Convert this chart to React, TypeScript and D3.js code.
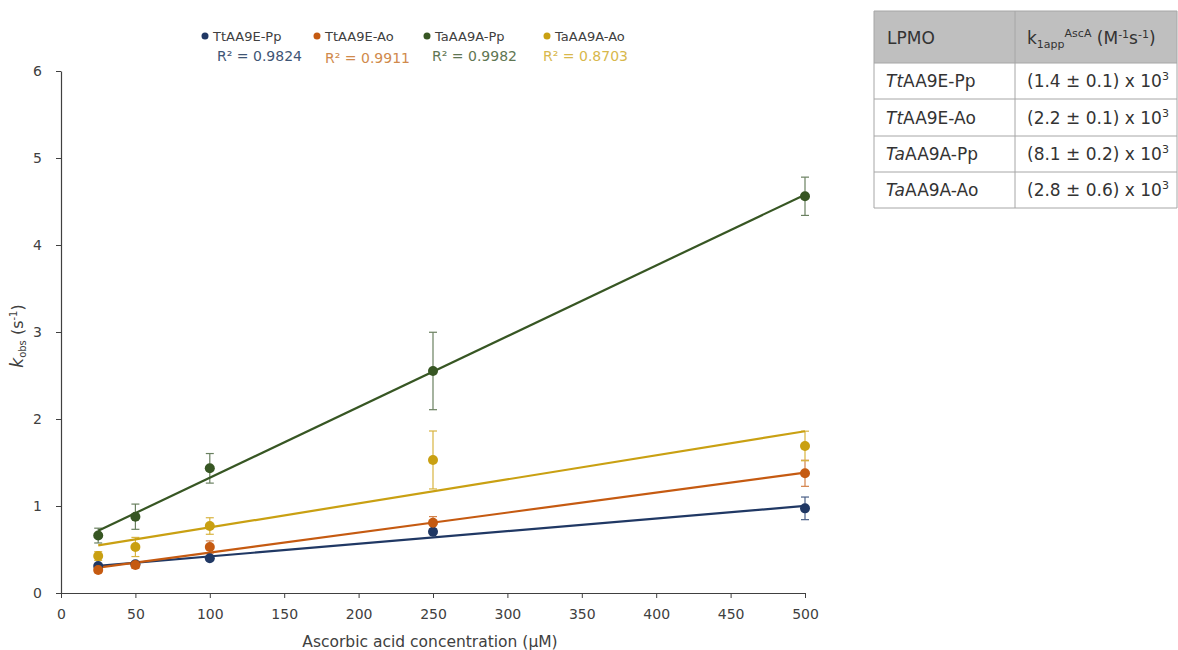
import React, { useEffect, useRef } from 'react';
import * as d3 from 'd3';

// ascorbic acid concentration (uM)
const concentrations = [25, 50, 100, 250, 500];

const seriesNames = ['TtAA9E-Pp', 'TtAA9E-Ao', 'TaAA9A-Pp', 'TaAA9A-Ao'];
const seriesColors = ['#203864', '#c55a11', '#375623', '#c9a012'];
const errorColors = ['#4a5f86', '#d4824a', '#6a8060', '#d8b440'];
const r2Colors = ['#3f5575', '#d08a4c', '#5f7653', '#d8b84c'];
const r2Labels = ['R² = 0.9824', 'R² = 0.9911', 'R² = 0.9982', 'R² = 0.8703'];

// k_obs (s-1)
const ttPpValues = [0.31, 0.33, 0.4, 0.705, 0.973];
const ttPpErrors = [0.02, 0.02, 0.02, 0.02, 0.13];
const ttAoValues = [0.264, 0.322, 0.529, 0.808, 1.376];
const ttAoErrors = [0.03, 0.04, 0.07, 0.07, 0.15];
const taPpValues = [0.66, 0.877, 1.433, 2.552, 4.56];
const taPpErrors = [0.085, 0.145, 0.17, 0.445, 0.22];
const taAoValues = [0.425, 0.529, 0.77, 1.529, 1.69];
const taAoErrors = [0.05, 0.11, 0.095, 0.333, 0.17];

const xTicks = [0, 50, 100, 150, 200, 250, 300, 350, 400, 450, 500];
const yTicks = [0, 1, 2, 3, 4, 5, 6];

// table
const tablePrefix = ['Tt', 'Tt', 'Ta', 'Ta'];
const tableSuffix = ['AA9E-Pp', 'AA9E-Ao', 'AA9A-Pp', 'AA9A-Ao'];
const tableRates = ['(1.4 ± 0.1) x 10', '(2.2 ± 0.1) x 10', '(8.1 ± 0.2) x 10', '(2.8 ± 0.6) x 10'];

const FONT = 'Tahoma, "DejaVu Sans", Verdana, sans-serif';

function linearFit(xs: number[], ys: number[]) {
  const mx = d3.mean(xs) as number;
  const my = d3.mean(ys) as number;
  let sxy = 0;
  let sxx = 0;
  xs.forEach((x, i) => {
    sxy += (x - mx) * (ys[i] - my);
    sxx += (x - mx) * (x - mx);
  });
  const slope = sxy / sxx;
  return { slope, intercept: my - slope * mx };
}

function drawChart(node: SVGSVGElement) {
  const svg = d3.select(node);
  svg.selectAll('*').remove();

  const x = d3.scaleLinear().domain([0, 500]).range([61, 805]);
  const y = d3.scaleLinear().domain([0, 6]).range([593, 71]);

  const series = [
    { values: ttPpValues, errors: ttPpErrors },
    { values: ttAoValues, errors: ttAoErrors },
    { values: taPpValues, errors: taPpErrors },
    { values: taAoValues, errors: taAoErrors },
  ];

  // axes
  const yAxis = svg
    .append('g')
    .attr('transform', `translate(${x(0)},0)`)
    .call(
      d3.axisLeft(y).tickValues(yTicks).tickFormat(d3.format('d')).tickSize(5).tickSizeOuter(0).tickPadding(14),
    );
  const xAxis = svg
    .append('g')
    .attr('transform', `translate(0,${y(0)})`)
    .call(
      d3.axisBottom(x).tickValues(xTicks).tickSize(5).tickSizeOuter(0).tickPadding(11),
    );
  [xAxis, yAxis].forEach((a) => {
    a.select('.domain').attr('stroke', '#404040').attr('stroke-width', 1.2);
    a.selectAll('.tick line').attr('stroke', '#404040');
    a.selectAll('.tick text')
      .attr('fill', '#404040')
      .style('font-family', FONT)
      .style('font-size', '14px');
  });

  // error bars
  series.forEach((s, si) => {
    const g = svg.append('g');
    s.values.forEach((v, i) => {
      const cx = x(concentrations[i]);
      const top = y(v + s.errors[i]);
      const bot = y(v - s.errors[i]);
      g.append('line')
        .attr('x1', cx).attr('x2', cx).attr('y1', top).attr('y2', bot)
        .attr('stroke', errorColors[si]).attr('stroke-width', 1.2);
      [top, bot].forEach((yy) => {
        g.append('line')
          .attr('x1', cx - 4).attr('x2', cx + 4).attr('y1', yy).attr('y2', yy)
          .attr('stroke', errorColors[si]).attr('stroke-width', 1.2);
      });
    });
  });

  // trendlines
  series.forEach((s, si) => {
    const fit = linearFit(concentrations, s.values);
    const ends = [concentrations[0], concentrations[concentrations.length - 1]];
    svg
      .append('path')
      .datum(ends)
      .attr('fill', 'none')
      .attr('stroke', seriesColors[si])
      .attr('stroke-width', 2.2)
      .attr(
        'd',
        d3
          .line<number>()
          .x((d) => x(d))
          .y((d) => y(fit.intercept + fit.slope * d)),
      );
  });

  // points
  series.forEach((s, si) => {
    svg
      .append('g')
      .selectAll('circle')
      .data(s.values)
      .join('circle')
      .attr('cx', (d, i) => x(concentrations[i]))
      .attr('cy', (d) => y(d))
      .attr('r', 5)
      .attr('fill', seriesColors[si]);
  });

  // legend
  const legendDotX = [205, 317, 427, 547];
  const r2X = [217, 325, 432, 543];
  const r2Y = [61, 63, 61, 61];
  seriesNames.forEach((name, i) => {
    svg.append('circle').attr('cx', legendDotX[i]).attr('cy', 36).attr('r', 3.5).attr('fill', seriesColors[i]);
    svg
      .append('text')
      .attr('x', legendDotX[i] + 8)
      .attr('y', 41)
      .attr('fill', '#404040')
      .style('font-family', FONT)
      .style('font-size', '13px')
      .text(name);
    svg
      .append('text')
      .attr('x', r2X[i])
      .attr('y', r2Y[i])
      .attr('fill', r2Colors[i])
      .style('font-family', FONT)
      .style('font-size', '14px')
      .text(r2Labels[i]);
  });

  // axis titles
  svg
    .append('text')
    .attr('x', 430)
    .attr('y', 647)
    .attr('text-anchor', 'middle')
    .attr('fill', '#404040')
    .style('font-family', FONT)
    .style('font-size', '15.5px')
    .text('Ascorbic acid concentration (μM)');

  const yt = svg
    .append('text')
    .attr('transform', 'translate(23,336) rotate(-90)')
    .attr('text-anchor', 'middle')
    .attr('fill', '#404040')
    .style('font-family', FONT)
    .style('font-size', '16px');
  yt.append('tspan').attr('font-style', 'italic').style('font-size', '17px').text('k');
  yt.append('tspan').style('font-size', '10px').attr('dy', 3).text('obs');
  yt.append('tspan').attr('dy', -3).text(' (s');
  yt.append('tspan').style('font-size', '10px').attr('dy', -6).text('-1');
  yt.append('tspan').attr('dy', 6).text(')');

  // table
  const tbl = svg.append('g');
  const tx0 = 874;
  const tx1 = 1015;
  const tx2 = 1177;
  const rowEdges = [11, 63, 99, 136, 172, 208];
  tbl.append('rect')
    .attr('x', tx0).attr('y', rowEdges[0])
    .attr('width', tx2 - tx0).attr('height', rowEdges[1] - rowEdges[0])
    .attr('fill', '#bfbfbf');
  rowEdges.forEach((ry) => {
    tbl.append('line')
      .attr('x1', tx0).attr('x2', tx2).attr('y1', ry).attr('y2', ry)
      .attr('stroke', '#a6a6a6').attr('stroke-width', 1);
  });
  [tx0, tx1, tx2].forEach((cx) => {
    tbl.append('line')
      .attr('x1', cx).attr('x2', cx).attr('y1', rowEdges[0]).attr('y2', rowEdges[5])
      .attr('stroke', '#a6a6a6').attr('stroke-width', 1);
  });
  const cellText = (xx: number, yy: number) =>
    tbl
      .append('text')
      .attr('x', xx)
      .attr('y', yy)
      .attr('fill', '#333333')
      .style('font-family', FONT)
      .style('font-size', '17px');

  cellText(tx0 + 13, 44).text('LPMO');
  const h = cellText(tx1 + 12, 44);
  h.append('tspan').text('k');
  h.append('tspan').style('font-size', '11px').attr('dy', 4).text('1app');
  h.append('tspan').style('font-size', '11px').attr('dy', -11).text('AscA');
  h.append('tspan').attr('dy', 7).text(' (M');
  h.append('tspan').style('font-size', '11px').attr('dy', -6).text('-1');
  h.append('tspan').attr('dy', 6).text('s');
  h.append('tspan').style('font-size', '11px').attr('dy', -6).text('-1');
  h.append('tspan').attr('dy', 6).text(')');

  tablePrefix.forEach((p, i) => {
    const yy = (rowEdges[i + 1] + rowEdges[i + 2]) / 2 + 6;
    const c1 = cellText(tx0 + 12, yy);
    c1.append('tspan').attr('font-style', 'italic').text(p);
    c1.append('tspan').text(tableSuffix[i]);
    const c2 = cellText(tx1 + 12, yy);
    c2.append('tspan').text(tableRates[i]);
    c2.append('tspan').style('font-size', '11px').attr('dy', -7).text('3');
  });
}

const App = () => {
  const ref = useRef<SVGSVGElement>(null);

  useEffect(() => {
    document.body.style.margin = '0';
    if (ref.current) {
      drawChart(ref.current);
    }
  }, []);

  return (
    <div style={{ width: 1178, height: 650, background: '#ffffff' }}>
      <svg ref={ref} width={1178} height={650} style={{ display: 'block' }} />
    </div>
  );
};

export default App;
